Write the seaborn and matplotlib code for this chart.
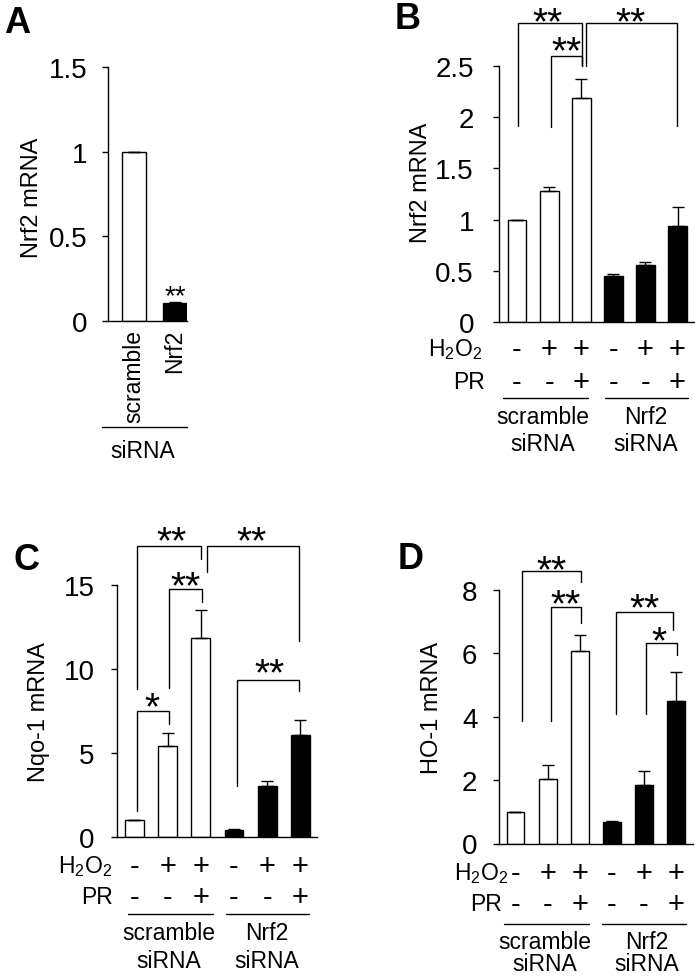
import numpy as np
import pandas as pd
import matplotlib
matplotlib.use("Agg")
import matplotlib.pyplot as plt
import matplotlib.transforms as mtransforms
import seaborn as sns

# ---------------- data ----------------
conditions = ["scr ctrl", "scr H2O2", "scr H2O2+PR", "Nrf2 ctrl", "Nrf2 H2O2", "Nrf2 H2O2+PR"]
bar_colors = ["white", "white", "white", "black", "black", "black"]
h2o2_signs = ["-", "+", "+", "-", "+", "+"]
pr_signs = ["-", "-", "+", "-", "-", "+"]
group_top = ["scramble", "Nrf2"]
group_bottom = ["siRNA", "siRNA"]

a_categories = ["scramble", "Nrf2"]
a_colors = ["white", "black"]
a_nrf2_mean = [1.0, 0.105]
a_nrf2_sem = [0.0, 0.008]
a_yticks = [0, 0.5, 1, 1.5]
a_yticklabels = ["0", "0.5", "1", "1.5"]

b_nrf2_mean = [1.0, 1.275, 2.19, 0.452, 0.56, 0.94]
b_nrf2_sem = [0.0, 0.04, 0.18, 0.013, 0.03, 0.18]
b_yticks = [0, 0.5, 1, 1.5, 2, 2.5]
b_yticklabels = ["0", "0.5", "1", "1.5", "2", "2.5"]

c_nqo1_mean = [1.0, 5.43, 11.83, 0.42, 3.02, 6.07]
c_nqo1_sem = [0.0, 0.74, 1.70, 0.04, 0.33, 0.91]
c_yticks = [0, 5, 10, 15]
c_yticklabels = ["0", "5", "10", "15"]

d_ho1_mean = [1.0, 2.03, 6.07, 0.69, 1.85, 4.5]
d_ho1_sem = [0.0, 0.45, 0.50, 0.02, 0.44, 0.92]
d_yticks = [0, 2, 4, 6, 8]
d_yticklabels = ["0", "2", "4", "6", "8"]

# ---------------- style ----------------
sns.set_theme(style="ticks")
plt.rcParams["font.family"] = ["Liberation Sans", "DejaVu Sans"]
plt.rcParams["mathtext.fontset"] = "custom"
plt.rcParams["mathtext.rm"] = "Liberation Sans"
plt.rcParams["mathtext.it"] = "Liberation Sans:italic"
plt.rcParams["mathtext.bf"] = "Liberation Sans:bold"
for k in ["axes.edgecolor", "xtick.color", "ytick.color", "text.color", "axes.labelcolor"]:
    plt.rcParams[k] = "black"
plt.rcParams["axes.linewidth"] = 1.0
plt.rcParams["ytick.major.width"] = 1.0

W, H = 695, 979
fig = plt.figure(figsize=(W / 100, H / 100), dpi=100)
fig.patch.set_facecolor("white")


def px_axes(left, top, right, bottom):
    return fig.add_axes([left / W, 1 - bottom / H, (right - left) / W, (bottom - top) / H])


def fy(py):
    return 1 - py / H


def fx(px):
    return px / W


def base(py_center, size):
    # baseline (pixel, from top) so that cap/sign centre lands on py_center
    return py_center + 0.358 * size * 100 / 72


def draw_bars(ax, cats, means, sems, colors, width):
    df = pd.DataFrame({"cond": cats, "value": means})
    sns.barplot(data=df, x="cond", y="value", hue="cond", order=cats, hue_order=cats,
                palette=colors, legend=False, edgecolor="black", linewidth=1.0,
                width=width, errorbar=None, saturation=1, ax=ax, zorder=2)
    pos = np.arange(len(cats))
    ax.errorbar(pos, means, yerr=[np.zeros(len(sems)), sems], fmt="none", ecolor="black",
                elinewidth=1.0, capsize=4.3, capthick=1.0, zorder=3)


def style_axes(ax, xlim, yticks, yticklabels, pad):
    ax.set_xlim(*xlim)
    ax.set_ylim(yticks[0], yticks[-1])
    ax.set_yticks(yticks)
    ax.set_yticklabels(yticklabels, fontsize=20)
    ax.tick_params(axis="y", length=4, width=1.0, pad=pad, direction="out")
    ax.set_xlabel("")
    ax.set_ylabel("")
    sns.despine(ax=ax)
    ax.patch.set_alpha(0)


def bracket(ax, x1, x2, top, y1, y2, text, tx, ty, size=28):
    ax.plot([x1, x1, x2, x2], [y1, top, top, y2], color="black", lw=1.0,
            clip_on=False, solid_joinstyle="miter", zorder=4)
    tr = mtransforms.offset_copy(ax.transData, fig=fig, y=-0.557 * size, units="points")
    ax.text(tx, ty, text, transform=tr, ha="center", va="baseline", fontsize=size,
            clip_on=False)


def condition_rows(ax, lab_right, row_centers, line_y, spans, grp_x, grp_rows,
                   sign_size=21, text_size=16.5):
    blend = mtransforms.blended_transform_factory(ax.transData, fig.transFigure)
    labels = ["H$_2$O$_2$", "PR"]
    for r, (signs, yc) in enumerate(zip([h2o2_signs, pr_signs], row_centers)):
        fig.text(fx(lab_right[r]), fy(base(yc, text_size)), labels[r], ha="right",
                 va="baseline", fontsize=text_size)
        for i, s in enumerate(signs):
            ax.text(i, fy(base(yc, sign_size)), s, transform=blend, ha="center",
                    va="baseline", fontsize=sign_size, clip_on=False)
    for (x1, x2) in spans:
        ax.plot([x1, x2], [fy(line_y), fy(line_y)], transform=blend, color="black",
                lw=1.0, clip_on=False)
    for gx, t1, t2 in zip(grp_x, group_top, group_bottom):
        ax.text(gx, fy(base(grp_rows[0], text_size)), t1, transform=blend, ha="center",
                va="baseline", fontsize=text_size, clip_on=False)
        ax.text(gx, fy(base(grp_rows[1], text_size)), t2, transform=blend, ha="center",
                va="baseline", fontsize=text_size, clip_on=False)


def ylabel(xbase, ycenter, text):
    fig.text(fx(xbase), fy(ycenter), text, rotation=90, rotation_mode="anchor",
             ha="center", va="baseline", fontsize=17)


def panel_letter(xc, yc, letter):
    fig.text(fx(xc), fy(base(yc, 26)), letter, ha="center", va="baseline",
             fontsize=26, fontweight="bold")


# ---------------- Panel A ----------------
axA = px_axes(108, 68, 187, 322)
draw_bars(axA, a_categories, a_nrf2_mean, a_nrf2_sem, a_colors, 0.585)
style_axes(axA, (-0.634, 1.293), a_yticks, a_yticklabels, 10.5)
axA.set_xticks([0, 1])
axA.set_xticklabels(a_categories, rotation=90, fontsize=16.5)
axA.tick_params(axis="x", length=0, pad=5.5)
trA = mtransforms.offset_copy(axA.transData, fig=fig, y=-0.557 * 20, units="points")
axA.text(1, 0.195, "**", transform=trA, ha="center", va="baseline", fontsize=20)
blendA = mtransforms.blended_transform_factory(axA.transData, fig.transFigure)
axA.plot([-0.78, 1.29], [fy(428), fy(428)], transform=blendA, color="black", lw=1.0,
         clip_on=False)
axA.text(0.22, fy(base(450, 16.5)), "siRNA", transform=blendA, ha="center",
         va="baseline", fontsize=16.5, clip_on=False)
ylabel(38, 198, "Nrf2 mRNA")
panel_letter(17, 20, "A")

# ---------------- Panel B ----------------
axB = px_axes(499, 67, 695, 323)
draw_bars(axB, conditions, b_nrf2_mean, b_nrf2_sem, bar_colors, 0.59)
style_axes(axB, (-0.56, 5.545), b_yticks, b_yticklabels, 14)
axB.set_xticks([])
bracket(axB, 0.03, 2.02, 2.92, 1.91, 2.5, "**", 0.96, 3.03)
bracket(axB, 1.06, 2.02, 2.60, 1.90, 2.5, "**", 1.55, 2.75)
bracket(axB, 2.15, 4.98, 2.92, 2.5, 1.91, "**", 3.53, 3.03)
condition_rows(axB, (482, 485), (348, 381), 399,
               [(-0.44, 2.21), (2.74, 5.33)], (0.81, 4.02), (416, 443))
ylabel(427, 183, "Nrf2 mRNA")
panel_letter(408, 16, "B")

# ---------------- Panel C ----------------
axC = px_axes(117, 586, 317, 838)
draw_bars(axC, conditions, c_nqo1_mean, c_nqo1_sem, bar_colors, 0.57)
style_axes(axC, (-0.527, 5.5), c_yticks, c_yticklabels, 12)
axC.set_xticks([])
bracket(axC, 0.075, 2.0, 17.34, 8.8, 16.55, "**", 1.12, 18.23)
bracket(axC, 2.18, 4.96, 17.34, 15.77, 11.68, "**", 3.53, 18.23)
bracket(axC, 1.04, 2.03, 14.76, 8.87, 13.99, "**", 1.54, 15.55)
bracket(axC, 0.075, 1.04, 7.52, 1.57, 6.73, "*", 0.52, 8.38)
bracket(axC, 3.09, 4.96, 9.35, 3.04, 8.71, "**", 4.08, 10.4)
condition_rows(axC, (112, 113), (865, 896), 915,
               [(-0.2, 2.36), (2.76, 5.26)], (1.04, 4.0), (932, 960))
ylabel(45, 712, "Nqo-1 mRNA")
panel_letter(27, 557, "C")

# ---------------- Panel D ----------------
axD = px_axes(499, 590.7, 693, 844.5)
draw_bars(axD, conditions, d_ho1_mean, d_ho1_sem, bar_colors, 0.56)
style_axes(axD, (-0.514, 5.53), d_yticks, d_yticklabels, 11.5)
axD.set_xticks([])
bracket(axD, 0.2, 2.04, 8.59, 3.87, 8.24, "**", 1.13, 8.96)
bracket(axD, 1.1, 2.04, 7.45, 3.86, 6.94, "**", 1.57, 7.86)
bracket(axD, 3.13, 4.91, 7.29, 4.08, 6.73, "**", 4.03, 7.75)
bracket(axD, 4.07, 5.03, 6.31, 4.08, 5.94, "*", 4.47, 6.70)
condition_rows(axD, (508, 502), (872, 903), 925,
               [(-0.36, 2.29), (2.69, 5.31)], (0.92, 4.1), (941, 963))
ylabel(438, 708, "HO-1 mRNA")
panel_letter(411, 556, "D")

fig.savefig("out.png", dpi=100, facecolor="white")
